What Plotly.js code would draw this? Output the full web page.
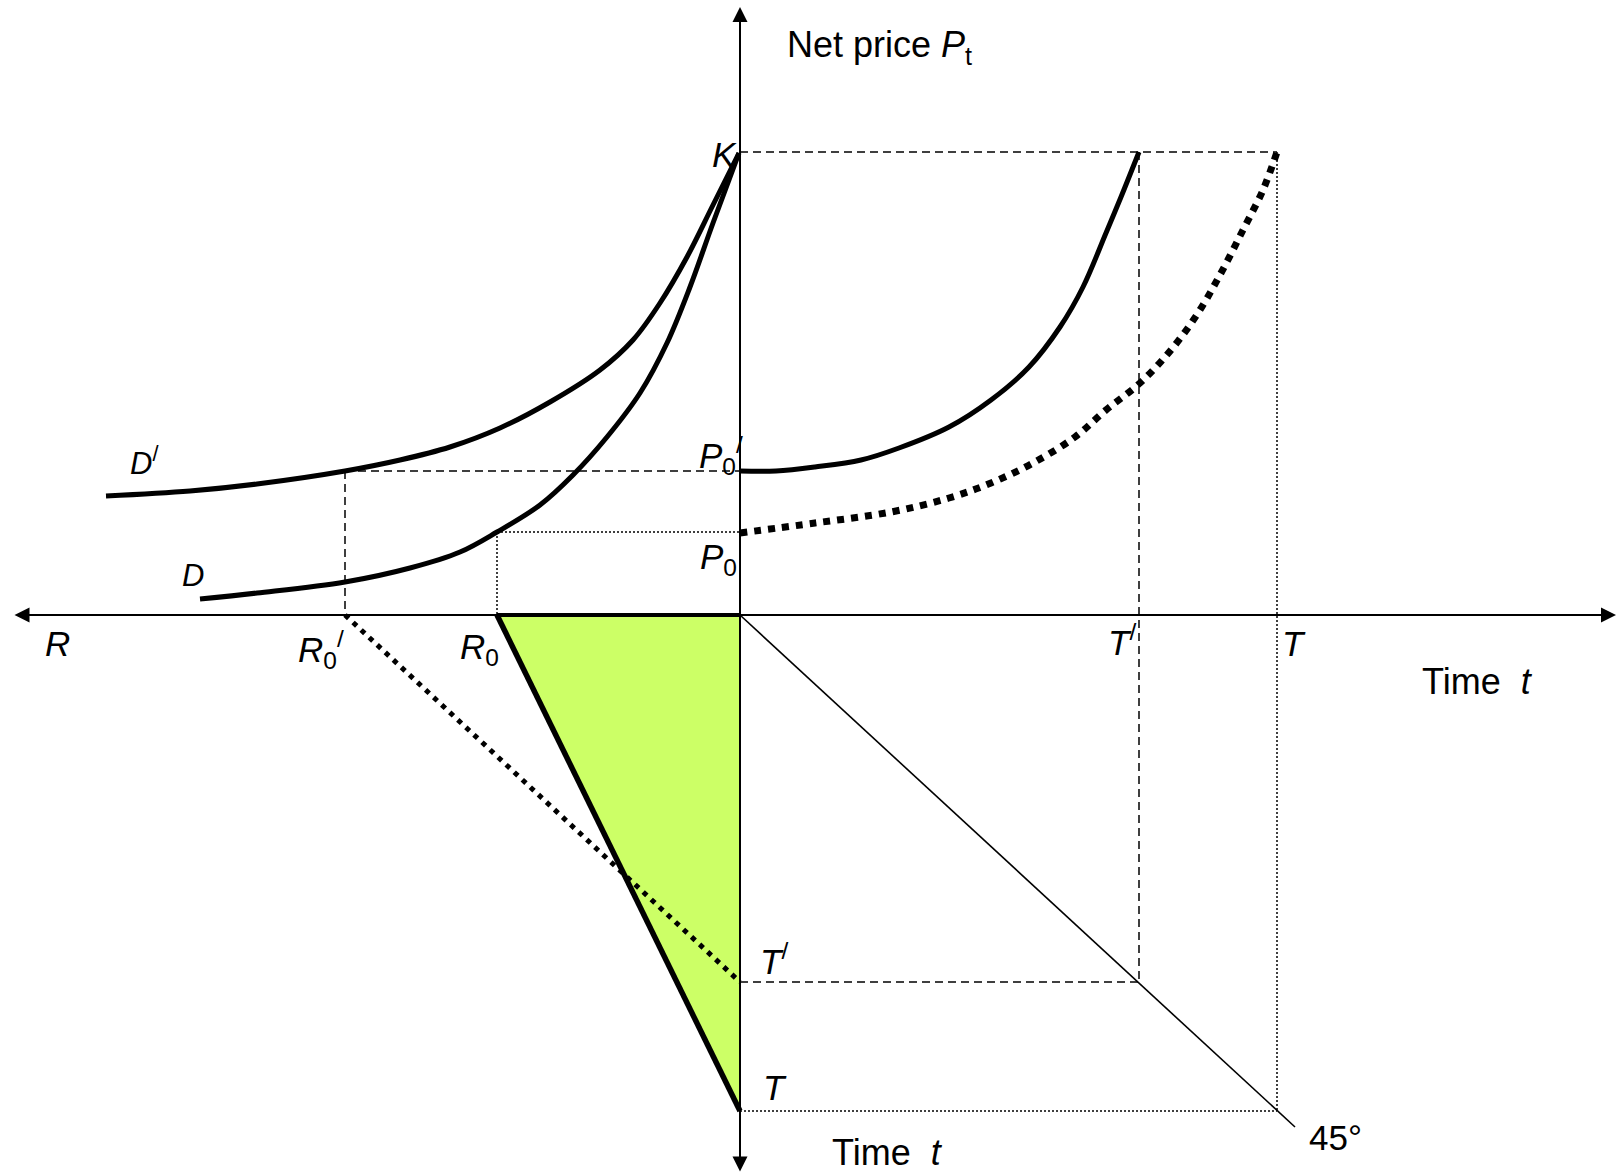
<!DOCTYPE html>
<html>
<head>
<meta charset="utf-8">
<script src="https://cdn.plot.ly/plotly-3.0.1.min.js"></script>
<style>html,body{margin:0;padding:0;background:#fff;}#chart{width:1618px;height:1175px;}</style>
</head>
<body>
<div id="chart"></div>
<script>
// ---- key levels (origin at the crossing of the axes) ----
const K = 463;          // exhaustion price (choke price)
const P0prime = 144;    // initial price P0'
const P0 = 83;          // initial price P0
const R0prime = -395;   // initial reserves R0'
const R0 = -243;        // initial reserves R0
const Tprime = 399;     // exhaustion time T' (horizontal)
const Tend = 537;       // exhaustion time T (horizontal)
const TprimeDown = -367; // T' on lower time axis
const TendDown = -496;   // T on lower time axis

// ---- demand curves (left quadrant) ----
const Dprime_x = [-634, -550, -483, -395, -340, -290, -240, -190, -140, -107, -80, -53, -27, -1];
const Dprime_y = [119, 124, 131, 144, 155, 168, 187, 213, 245, 275, 312, 358, 410, 462];
const D_x = [-540, -483, -395, -330, -280, -243, -200, -167, -133, -100, -73, -50, -27, -1];
const D_y = [16, 22, 33, 47, 63, 83, 110, 140, 178, 222, 272, 328, 392, 462];

// ---- price paths (right quadrant) ----
const pathPrime_x = [0, 36, 75, 121, 159, 209, 251, 289, 320, 343, 366, 381, 399];
const pathPrime_y = [144, 144, 148, 155, 167, 188, 215, 248, 288, 328, 382, 418, 463];
const path_x = [0, 75, 151, 209, 251, 293, 335, 366, 400, 431, 458, 481, 503, 523, 537];
const path_y = [82, 92, 103, 117, 132, 152, 178, 205, 232, 265, 302, 342, 385, 425, 463];

// ---- 45 degree line end ----
const line45_x = [0, 555];
const line45_y = [0, -512];

// ---- axis extents ----
const axisX = [-727, 876];
const axisY = [-558, 608];

const BLACK = '#000000';
const GREEN = '#CCFF66';
const DASH = '8px,5px';
const DOT = '2px,2px';

function ln(xs, ys, w, dash) {
  return {type: 'scatter', mode: 'lines', x: xs, y: ys, hoverinfo: 'skip',
          line: {color: BLACK, width: w, dash: dash || 'solid', shape: 'spline', smoothing: 1.0}};
}
function seg(xs, ys, w, dash) {
  return {type: 'scatter', mode: 'lines', x: xs, y: ys, hoverinfo: 'skip',
          line: {color: BLACK, width: w, dash: dash || 'solid'}};
}

const traces = [
  // green triangle
  {type: 'scatter', mode: 'lines', x: [R0, 0, 0, R0], y: [0, 0, TendDown, 0], fill: 'toself',
   fillcolor: GREEN, line: {width: 0, color: GREEN}, hoverinfo: 'skip'},
  // thin guide lines
  seg([0, Tend], [K, K], 1.5, DASH),
  seg([Tprime, Tprime], [K, TprimeDown], 1.5, DASH),
  seg([Tend, Tend], [K, TendDown], 1.5, DOT),
  seg([R0prime, 0], [P0prime, P0prime], 1.5, DASH),
  seg([R0prime, R0prime], [P0prime, 0], 1.5, DASH),
  seg([R0, 0], [P0, P0], 1.5, DOT),
  seg([R0, R0], [P0, 0], 1.5, DOT),
  seg([0, Tprime], [TprimeDown, TprimeDown], 1.5, DASH),
  seg([0, Tend], [TendDown, TendDown], 1.5, DOT),
  seg(line45_x, line45_y, 1.6),
  // triangle edges
  seg([R0, 0], [0, 0], 4),
  seg([R0, 0], [0, TendDown], 5.5),
  // dotted depletion path for R0'
  seg([R0prime, 0], [0, TprimeDown], 5, '5px,6px'),
  // demand curves
  ln(Dprime_x, Dprime_y, 5),
  ln(D_x, D_y, 5),
  // price paths
  ln(pathPrime_x, pathPrime_y, 5),
  ln(path_x, path_y, 7, '7px,7px')
];

const F = 'Liberation Sans, Arial, sans-serif';
function lab(x, y, text, xanchor, size) {
  return {x: x, y: y, xref: 'x', yref: 'y', text: text, showarrow: false,
          xanchor: xanchor, yanchor: 'middle', font: {family: F, size: size || 35, color: BLACK}};
}
const NB = '\u00A0';
const annotations = [
  // axes with arrowheads
  {x: axisX[1], y: 0, ax: axisX[0], ay: 0, xref: 'x', yref: 'y', axref: 'x', ayref: 'y', text: '',
   showarrow: true, arrowhead: 2, startarrowhead: 2, arrowside: 'end+start', arrowwidth: 2,
   arrowsize: 1.5, startarrowsize: 1.5, arrowcolor: BLACK},
  {x: 0, y: axisY[1], ax: 0, ay: axisY[0], xref: 'x', yref: 'y', axref: 'x', ayref: 'y', text: '',
   showarrow: true, arrowhead: 2, startarrowhead: 2, arrowside: 'end+start', arrowwidth: 2,
   arrowsize: 1.5, startarrowsize: 1.5, arrowcolor: BLACK},
  lab(45, 568, 'Net price <i>P</i><sub>t</sub>', 'left', 36),
  lab(-1, 461, '<i>K</i>', 'right'),
  lab(5, 160, '<i>P</i><sub>0</sub><sup>/</sup>', 'right'),
  lab(-1, 56, '<i>P</i><sub>0</sub>', 'right'),
  lab(-612, 154, '<i>D</i><sup>/</sup>', 'left', 31),
  lab(-560, 40, '<i>D</i>', 'left', 31),
  lab(-697, -28, '<i>R</i>', 'left'),
  lab(-444, -34, '<i>R</i><sub>0</sub><sup>/</sup>', 'left'),
  lab(-282, -34, '<i>R</i><sub>0</sub>', 'left'),
  lab(366, -25, '<i>T</i><sup>/</sup>', 'left'),
  lab(540, -28, '<i>T</i>', 'left'),
  lab(680, -66, 'Time' + NB + NB + '<i>t</i>', 'left', 36),
  lab(18, -344, '<i>T</i><sup>/</sup>', 'left'),
  lab(21, -472, '<i>T</i>', 'left'),
  lab(90, -537, 'Time' + NB + NB + '<i>t</i>', 'left', 36),
  lab(567, -522, '45°', 'left')
];

const layout = {
  width: 1618, height: 1175, autosize: false,
  margin: {l: 0, r: 0, t: 0, b: 0, pad: 0},
  paper_bgcolor: '#ffffff', plot_bgcolor: '#ffffff',
  showlegend: false,
  xaxis: {range: [-740, 878], visible: false, fixedrange: true},
  yaxis: {range: [-560, 615], visible: false, fixedrange: true},
  annotations: annotations
};

Plotly.newPlot('chart', traces, layout, {displayModeBar: false, staticPlot: true});
</script>
</body>
</html>
